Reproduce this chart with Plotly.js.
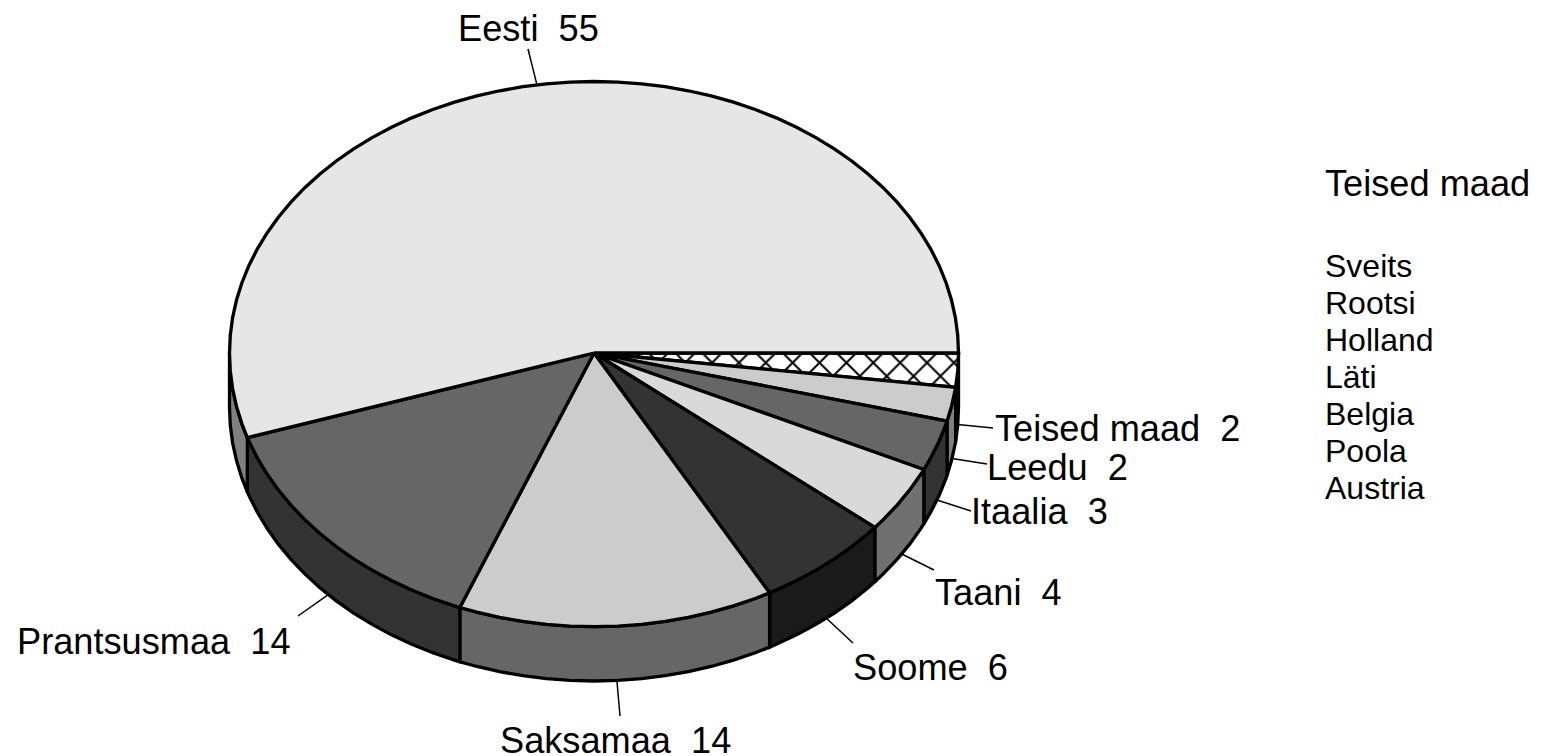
<!DOCTYPE html>
<html>
<head>
<meta charset="utf-8">
<script src="https://cdn.plot.ly/plotly-3.0.1.min.js"></script>
<style>html,body{margin:0;padding:0;background:#fff;overflow:hidden}#chart{width:1547px;height:756px}</style>
</head>
<body>
<div id="chart"></div>
<script>
// Data, clockwise from the east
const categories = ["Teised maad", "Leedu", "Itaalia", "Taani", "Soome", "Saksamaa", "Prantsusmaa", "Eesti"];
const values = [2, 2, 3, 4, 6, 14, 14, 55];
const otherCountries = ["Sveits", "Rootsi", "Holland", "Läti", "Belgia", "Poola", "Austria"];
const otherTitle = "Teised maad";

// Styles
const topColors = ["#ffffff", "#cccccc", "#666666", "#d9d9d9", "#333333", "#cccccc", "#666666", "#e6e6e6"];
const sideColors = ["#000000", "#808080", "#333333", "#707070", "#1a1a1a", "#666666", "#333333", "#808080"];

// Geometry of the tilted disc, in page pixels
const CX = 594, CY = 353, RX = 364.5, RY_FRONT = 273.7, RY_BACK = 271.5, DEPTH = 54.3;
const FACET = 3.75;
const LW = 3.3, INK = "#000000";
const FONT = "Liberation Sans, Arial, sans-serif";

// Where each label's leader ends and where its text starts
const leaderEndX = [993, 987, 971, 934, 853, 620, 298, 528];
const leaderEndY = [428, 464, 511, 570, 643, 716, 616, 49];
const labelX = [992.5, 984.5, 968.5, 932.5, 850.5, 497.5, 14.5, 455.5];
const labelY = [428, 467, 511, 592, 667, 740, 641, 28];

const total = values.reduce((a, b) => a + b, 0);
const rad = d => d * Math.PI / 180;
const px = d => CX + RX * Math.cos(rad(d));
const py = d => {
  const s = Math.sin(rad(d));
  return CY + (s >= 0 ? RY_FRONT : RY_BACK) * s;
};

// Slice ends plus the disc's facet corners between them
function arc(a, b) {
  const out = [a];
  for (let k = Math.floor(a / FACET) + 1; k * FACET < b - 1e-6; k++) out.push(k * FACET);
  out.push(b);
  return out;
}

const sides = [], tops = [], leaders = [], annotations = [];
let acc = 0;
values.forEach((v, i) => {
  const a = acc / total * 360;
  acc += v;
  const b = acc / total * 360;
  const mid = (a + b) / 2;

  // visible rim: only the front half of the disc
  const sb = Math.min(b, 180);
  if (a < 180) {
    const t = arc(a, sb);
    const r = t.slice().reverse();
    sides.push({
      type: "scatter", mode: "lines", hoverinfo: "skip", showlegend: false,
      x: t.map(px).concat(r.map(px), [px(a)]),
      y: t.map(py).concat(r.map(d => py(d) + DEPTH), [py(a)]),
      fill: "toself", fillcolor: sideColors[i],
      line: {color: INK, width: LW, simplify: false}
    });
  }

  // top face
  const t = arc(a, b);
  const face = {
    type: "scatter", mode: "lines", hoverinfo: "skip", showlegend: false,
    x: [CX].concat(t.map(px), [CX]),
    y: [CY].concat(t.map(py), [CY]),
    fill: "toself", fillcolor: topColors[i],
    line: {color: INK, width: LW, simplify: false}
  };
  if (categories[i] === otherTitle) {
    face.fillpattern = {shape: "x", size: 19, solidity: 0.2, fgcolor: INK, bgcolor: "#ffffff"};
  }
  tops.push(face);

  // leader line from the rim at the slice's middle
  const lift = (mid > 180) ? 0 : DEPTH;
  leaders.push({
    type: "scatter", mode: "lines", hoverinfo: "skip", showlegend: false,
    x: [px(mid), leaderEndX[i]],
    y: [py(mid) + lift, leaderEndY[i]],
    line: {color: INK, width: 1.5}
  });

  annotations.push({
    xref: "x", yref: "y", x: labelX[i], y: labelY[i],
    xanchor: "left", yanchor: "middle", showarrow: false,
    text: categories[i] + "\u00a0\u00a0" + v,
    font: {family: FONT, size: 36.2, color: INK}
  });
});

// Note block on the right
annotations.push({
  xref: "x", yref: "y", x: 1322.5, y: 183, xanchor: "left", yanchor: "middle", showarrow: false,
  text: otherTitle, font: {family: FONT, size: 36.2, color: INK}
});
otherCountries.forEach((c, i) => {
  annotations.push({
    xref: "x", yref: "y", x: 1322.5, y: 266 + i * 37, xanchor: "left", yanchor: "middle", showarrow: false,
    text: c, font: {family: FONT, size: 32, color: INK}
  });
});

Plotly.newPlot("chart", leaders.concat(sides, tops), {
  width: 1547, height: 756,
  margin: {l: 0, r: 0, t: 0, b: 0},
  paper_bgcolor: "#ffffff", plot_bgcolor: "#ffffff",
  showlegend: false,
  xaxis: {range: [0, 1547], visible: false, fixedrange: true},
  yaxis: {range: [756, 0], visible: false, fixedrange: true},
  annotations: annotations
}, {displayModeBar: false, responsive: false, staticPlot: true});
</script>
</body>
</html>
